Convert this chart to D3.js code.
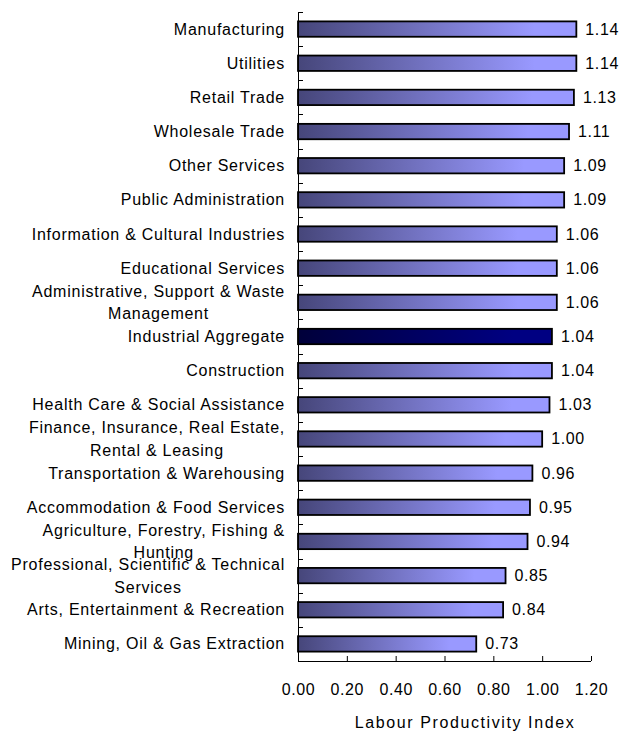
<!DOCTYPE html>
<html>
<head>
<meta charset="utf-8">
<script src="https://cdn.jsdelivr.net/npm/d3@7"></script>
<style>
  html, body { margin: 0; padding: 0; background: #fff; }
  svg { display: block; font-family: "Liberation Sans", Arial, sans-serif; }
</style>
</head>
<body>
<svg id="chart" width="623" height="731"></svg>
<script>
// Industries, top to bottom; "\n" marks where a long label wraps
const categories = [
  "Manufacturing",
  "Utilities",
  "Retail Trade",
  "Wholesale Trade",
  "Other Services",
  "Public Administration",
  "Information & Cultural Industries",
  "Educational Services",
  "Administrative, Support & Waste\nManagement",
  "Industrial Aggregate",
  "Construction",
  "Health Care & Social Assistance",
  "Finance, Insurance, Real Estate,\nRental & Leasing",
  "Transportation & Warehousing",
  "Accommodation & Food Services",
  "Agriculture, Forestry, Fishing &\nHunting",
  "Professional, Scientific & Technical\nServices",
  "Arts, Entertainment & Recreation",
  "Mining, Oil & Gas Extraction"
];
const values = [1.14, 1.14, 1.13, 1.11, 1.09, 1.09, 1.06, 1.06, 1.06, 1.04,
                1.04, 1.03, 1.00, 0.96, 0.95, 0.94, 0.85, 0.84, 0.73];
const highlighted = "Industrial Aggregate";
const xTicks = [0, 0.2, 0.4, 0.6, 0.8, 1.0, 1.2];
const xTitle = "Labour Productivity Index";

const rows = categories.map((c, i) => ({ name: c, value: values[i] }));

const svg = d3.select("#chart");
const plot = { left: 298, right: 591, top: 12, bottom: 661 };

const x = d3.scaleLinear().domain([0, 1.2]).range([plot.left, plot.right]);
const y = d3.scaleBand()
  .domain(categories)
  .range([plot.top, plot.bottom])
  .paddingInner(0.55)
  .paddingOuter(0.275);

// Gradients: regular bars and the aggregate bar
const defs = svg.append("defs");
function gradient(id, from, to) {
  const g = defs.append("linearGradient").attr("id", id)
    .attr("x1", "0%").attr("x2", "100%").attr("y1", "0%").attr("y2", "0%");
  g.append("stop").attr("offset", "0%").attr("stop-color", from);
  g.append("stop").attr("offset", "85%").attr("stop-color", to);
  g.append("stop").attr("offset", "100%").attr("stop-color", to);
}
gradient("barFill", "#46467a", "#9999ff");
gradient("aggFill", "#00003a", "#000082");

// Bars
svg.append("g").selectAll("rect")
  .data(rows)
  .join("rect")
  .attr("x", x(0))
  .attr("y", d => y(d.name))
  .attr("width", d => x(d.value) - x(0))
  .attr("height", y.bandwidth())
  .attr("fill", d => d.name === highlighted ? "url(#aggFill)" : "url(#barFill)")
  .attr("stroke", "#000")
  .attr("stroke-width", 1.8);

// Value labels
svg.append("g").selectAll("text")
  .data(rows)
  .join("text")
  .attr("x", d => x(d.value) + 9)
  .attr("y", d => y(d.name) + y.bandwidth() / 2 + 5.5)
  .attr("font-size", 16)
  .attr("letter-spacing", 0.6)
  .attr("fill", "#000")
  .text(d => d.value.toFixed(2));

// Category labels (multi-line ones are centred on their widest line)
const labelRight = 285;
const lg = svg.append("g").attr("font-size", 16).attr("letter-spacing", 0.75).attr("fill", "#000");
rows.forEach(d => {
  const lines = d.name.split("\n");
  const cy = y(d.name) + y.bandwidth() / 2;
  if (lines.length === 1) {
    lg.append("text").attr("x", labelRight).attr("y", cy + 5.5)
      .attr("text-anchor", "end").text(lines[0]);
  } else {
    const texts = lines.map((line, i) =>
      lg.append("text").attr("y", cy - 5.5 + i * 22.5).text(line));
    const widths = texts.map(t => t.node().getComputedTextLength());
    const wmax = d3.max(widths);
    const centre = labelRight - wmax / 2;
    texts.forEach((t, i) => t.attr("x", centre - widths[i] / 2));
  }
});

// Y axis: vertical line with small inward ticks at band boundaries
const bounds = d3.range(categories.length).map(i => plot.top + i * (plot.bottom - plot.top) / categories.length);
const ya = svg.append("g").attr("stroke", "#000").attr("stroke-width", 1);
ya.append("line").attr("x1", plot.left + 0.5).attr("x2", plot.left + 0.5)
  .attr("y1", plot.top).attr("y2", plot.bottom);
ya.selectAll("line.tick").data(bounds).join("line").attr("class", "tick")
  .attr("x1", plot.left).attr("x2", plot.left + 5)
  .attr("y1", d => Math.round(d) + 0.5).attr("y2", d => Math.round(d) + 0.5);

// X axis: ticks point up into the plot
const xAxis = d3.axisBottom(x).tickValues(xTicks).tickSizeInner(-5).tickSizeOuter(0)
  .tickFormat(d3.format(".2f"));
const xg = svg.append("g").attr("transform", `translate(0,${plot.bottom})`).call(xAxis);
xg.select(".domain").attr("stroke", "#000").attr("d", `M${plot.left},0.5H${plot.right}`);
xg.selectAll(".tick line").attr("stroke", "#000");
xg.selectAll(".tick text")
  .attr("y", 34).attr("dy", 0)
  .attr("font-size", 16).attr("letter-spacing", 0.6)
  .attr("font-family", "Liberation Sans, Arial, sans-serif")
  .attr("fill", "#000");

// Axis title
svg.append("text")
  .attr("x", 465).attr("y", 728)
  .attr("text-anchor", "middle")
  .attr("font-size", 16).attr("letter-spacing", 1.6)
  .text(xTitle);
</script>
</body>
</html>
